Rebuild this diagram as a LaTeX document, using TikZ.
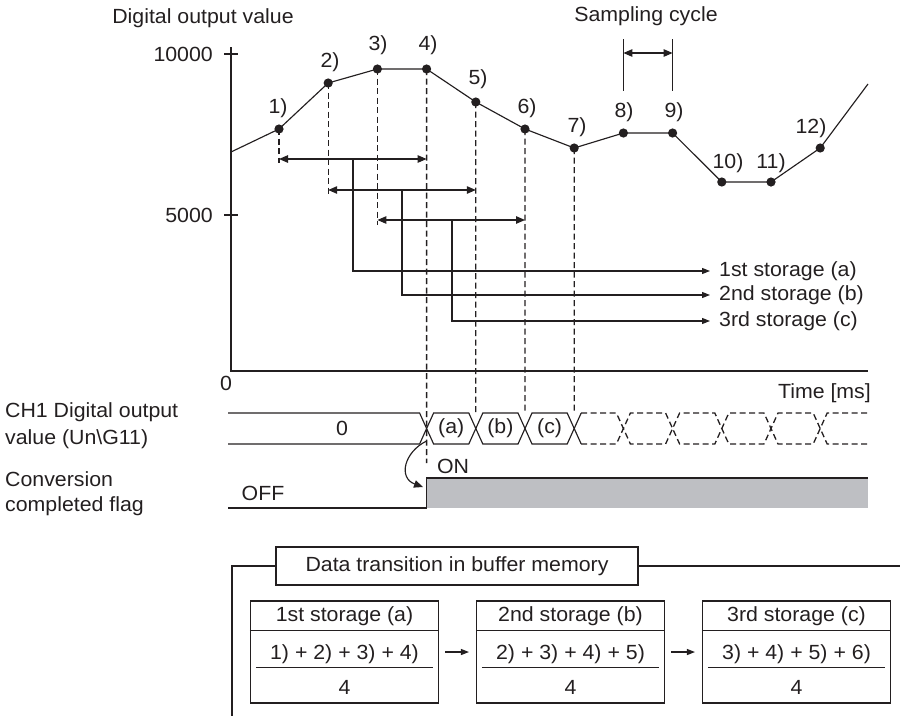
\documentclass[tikz,border=0pt]{standalone}
\usepackage{fontspec}
\setmainfont{Liberation Sans}[FakeStretch=1.04]
\usetikzlibrary{arrows.meta,calc}
\definecolor{ink}{RGB}{35,31,32}
\definecolor{flaggray}{RGB}{190,191,195}
\begin{document}
\begin{tikzpicture}[x=1pt,y=-1pt,
  every node/.style={font=\fontsize{20.5}{24}\selectfont, text=ink, inner sep=0pt},
  ln/.style={draw=ink, line width=1.15pt},
  dsh/.style={draw=ink, line width=1.3pt, dash pattern=on 6pt off 3.5pt},
  tip/.style={-{Triangle[length=9pt,width=7.5pt]}},
  dtip/.style={{Triangle[length=9pt,width=7.5pt]}-{Triangle[length=9pt,width=7.5pt]}},
  stip/.style={-{Triangle[length=8pt,width=6pt]}},
  box/.style={draw=ink, line width=1.1pt, minimum width=188pt, minimum height=102pt},
]
\useasboundingbox (0,0) rectangle (900,716);

% ---------------- axes ----------------
\coordinate (ytop) at (231,47);
\coordinate (orig) at (231,371);
\coordinate (xend) at (868,371);
\draw[ln] (ytop) -- (orig) -- (xend);
\coordinate (t1l) at (224,54);  \coordinate (t1r) at (238,54);
\coordinate (t2l) at (224,215); \coordinate (t2r) at (238,215);
\draw[ln] (t1l) -- (t1r);
\draw[ln] (t2l) -- (t2r);
\node[anchor=east] (v10000) at (213,54) {10000};
\node[anchor=east] (v5000) at (213,215) {5000};
\node (v0) at (226,383) {0};
\node (ytitle) at (203,18) {Digital output value};
\node[anchor=east] (xtitle) at (871,393) {Time [ms]};

% ---------------- sampled values ----------------
\foreach \i/\y in {1/129,2/83,3/69,4/69,5/102,6/129,7/148,8/133,9/133,10/182,11/182,12/148}
  \coordinate (p\i) at ({279+49.2*(\i-1)},\y);
\coordinate (c0) at (231,152);
\coordinate (cend) at (868,84);
\draw[ln] (c0) -- (p1) -- (p2) -- (p3) -- (p4) -- (p5) -- (p6) -- (p7) -- (p8)
  -- (p9) -- (p10) -- (p11) -- (p12) -- (cend);
\foreach \i in {1,...,12}
  \fill[ink] (p\i) circle[radius=4.6pt];
\foreach \i/\lx/\ly in {1/278/108,2/330/62,3/378/45,4/428/45,5/478/79,6/527/108,
  7/577/127,8/624/112,9/674/112,10/728/163,11/771/163,12/811/128}
  \node (lab\i) at (\lx,\ly) {\i)};

% sampling cycle
\node (sctitle) at (646,16) {Sampling cycle};
\coordinate (sc1t) at (623.4,39); \coordinate (sc1b) at (623.4,91);
\coordinate (sc2t) at (672.6,39); \coordinate (sc2b) at (672.6,91);
\coordinate (sc1m) at (623.4,53); \coordinate (sc2m) at (672.6,53);
\draw[ln] (sc1t) -- (sc1b);
\draw[ln] (sc2t) -- (sc2b);
\draw[ln, dtip] (sc1m) -- (sc2m);

% ---------------- averaging windows ----------------
\coordinate (w1l) at (279,159);   \coordinate (w1r) at (426.6,159);
\coordinate (w2l) at (328.2,190); \coordinate (w2r) at (475.8,190);
\coordinate (w3l) at (377.4,220); \coordinate (w3r) at (525,220);
\draw[dsh] (p1) -- (279,163);
\draw[dsh] (p2) -- (328.2,194);
\draw[dsh] (p3) -- (377.4,225);
\coordinate (d4) at (426.6,463);
\coordinate (d5) at (475.8,413);
\coordinate (d6) at (525,413);
\coordinate (d7) at (574.2,413);
\draw[dsh] (p4) -- (d4);
\draw[dsh] (p5) -- (d5);
\draw[dsh] (p6) -- (d6);
\draw[dsh] (p7) -- (d7);
\draw[ln, dtip] (w1l) -- (w1r);
\draw[ln, dtip] (w2l) -- (w2r);
\draw[ln, dtip] (w3l) -- (w3r);

\node[anchor=west] (st1) at (719,271) {1st storage (a)};
\node[anchor=west] (st2) at (719,295) {2nd storage (b)};
\node[anchor=west] (st3) at (719,321) {3rd storage (c)};
\coordinate (m1) at (353,159);
\coordinate (m2) at (402,190);
\coordinate (m3) at (452,220);
\draw[ln, stip] (m1) |- ([xshift=-9pt]st1.west);
\draw[ln, stip] (m2) |- ([xshift=-9pt]st2.west);
\draw[ln, stip] (m3) |- ([xshift=-9pt]st3.west);

% ---------------- timing chart ----------------
\node[anchor=west] (ch1a) at (5,412) {CH1 Digital output};
\node[anchor=west] (ch1b) at (5,439) {value (Un\textbackslash G11)};
\node[anchor=west] (cfa) at (5,479) {Conversion};
\node[anchor=west] (cfb) at (5,506) {completed flag};

% data register waveform (solid part)
\draw[ln] (228,413) -- (419.6,413) -- (433.6,444) -- (468.8,444) -- (482.8,413)
  -- (518,413) -- (532,444) -- (567.2,444) -- (581.2,413);
\draw[ln] (228,444) -- (419.6,444) -- (433.6,413) -- (468.8,413) -- (482.8,444)
  -- (518,444) -- (532,413) -- (567.2,413) -- (581.2,444);
% data register waveform (following values, dashed)
\draw[dsh] (581.2,413) -- (616.4,413) -- (630.4,444) -- (665.6,444) -- (679.6,413)
  -- (714.8,413) -- (728.8,444) -- (764,444) -- (778,413) -- (813.2,413)
  -- (827.2,444) -- (868,444);
\draw[dsh] (581.2,444) -- (616.4,444) -- (630.4,413) -- (665.6,413) -- (679.6,444)
  -- (714.8,444) -- (728.8,413) -- (764,413) -- (778,444) -- (813.2,444)
  -- (827.2,413) -- (868,413);
\node (val0) at (342,428) {0};
\node (vala) at (451.2,428) {(a)};
\node (valb) at (500.4,428) {(b)};
\node (valc) at (549.6,428) {(c)};

% conversion completed flag
\fill[flaggray] (426.6,478) rectangle (868,508);
\coordinate (off0) at (228,508);
\coordinate (edge0) at (426.6,508);
\coordinate (edge1) at (426.6,478);
\coordinate (on1) at (868,478);
\draw[ln] (off0) -- (edge0) -- (edge1) -- (on1);
\node (offlbl) at (263,493) {OFF};
\node (onlbl) at (453,466) {ON};
\coordinate (xa) at (426.6,441);
\coordinate (xb) at (423,487);
\draw[ln, tip] (xa) .. controls (404,452) and (398,478) .. (xb);

% ---------------- buffer memory transition ----------------
\node[draw=ink, line width=1.1pt, minimum width=362pt, minimum height=38pt]
  (title) at (457,566) {Data transition in buffer memory};
\coordinate (fl) at (232,566);
\coordinate (fb) at (232,716);
\coordinate (fr) at (900,566);
\draw[ln] (title.west) -- (fl) -- (fb);
\draw[ln] (title.east) -- (fr);

\foreach \n/\cx/\head/\num in {1/344.5/1st storage (a)/1) + 2) + 3) + 4),
                               2/570.5/2nd storage (b)/2) + 3) + 4) + 5),
                               3/796.5/3rd storage (c)/3) + 4) + 5) + 6)}{
  \node[box] (b\n) at (\cx,652) {};
  \draw[ln] ($(b\n.north west)+(0,30)$) -- ($(b\n.north east)+(0,30)$);
  \node (h\n) at (\cx,616) {\head};
  \node (n\n) at (\cx,654) {\num};
  \draw[ln] ($(b\n.north west)+(6,67)$) -- ($(b\n.north east)+(-6,67)$);
  \node (q\n) at (\cx,687) {4};
}
\draw[ln, stip] ([xshift=6pt]b1.east) -- ([xshift=-7pt]b2.west);
\draw[ln, stip] ([xshift=6pt]b2.east) -- ([xshift=-7pt]b3.west);
\end{tikzpicture}
\end{document}
